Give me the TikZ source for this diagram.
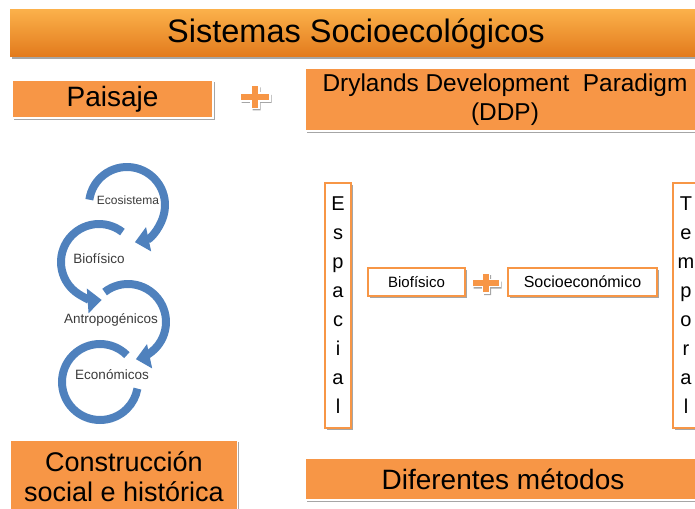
\documentclass[tikz,border=0pt]{standalone}
\usepackage{fontspec}
\setmainfont{Liberation Sans}
\usetikzlibrary{arrows.meta, calc, shadows}

\definecolor{boxorange}{HTML}{F79646}
\definecolor{titletop}{HTML}{FBB04A}
\definecolor{titlemid}{HTML}{F7941E}
\definecolor{titlebot}{HTML}{E27A1C}
\definecolor{spiralblue}{HTML}{4F81BD}
\definecolor{labelgray}{HTML}{3A3A3A}

\newcommand{\fsize}[1]{\fontsize{#1}{1.2\dimexpr#1pt\relax}\selectfont}

\begin{document}
\begin{tikzpicture}[x=1pt, y=1pt,
	shade box/.style={drop shadow={shadow xshift=1.5pt, shadow yshift=-2pt, opacity=0.35, fill=black}},
	orangebox/.style={shade box, fill=boxorange, draw=white, line width=1.2pt, inner sep=0pt, align=center},
	titlebar/.style={shade box, top color=titletop, middle color=titlemid, bottom color=titlebot, inner sep=0pt},
	framebox/.style={shade box, fill=white, draw=boxorange, line width=1.2pt, inner sep=0pt, align=center},
	spiral/.style={draw=spiralblue, line width=8pt},
	spiraltip/.style={-{Triangle[width=24pt, length=14pt]}},
	spirallabel/.style={text=labelgray, font=\fsize{13.5}, inner sep=0pt},
	pics/plussign/.style n args={3}{code={
		\filldraw[shade box, fill=boxorange, draw=white, line width=1.5pt]
			(-#1,-#3) -- (-#3,-#3) -- (-#3,-#2) -- (#3,-#2) -- (#3,-#3) -- (#1,-#3)
			-- (#1,#3) -- (#3,#3) -- (#3,#2) -- (-#3,#2) -- (-#3,#3) -- (-#1,#3) -- cycle;
	}}]
	\useasboundingbox (0,0) rectangle (695,-508);

	% title and top row
	\node[titlebar, minimum width=692, minimum height=47, font=\fsize{32.5}] (title) at (356,-33.5) {Sistemas Socioecológicos};
	\node[orangebox, minimum width=201, minimum height=38, font=\fsize{28}] (paisaje) at (112.5,-99) {Paisaje};
	\pic at (255,-97) {plussign={15}{11.5}{4}};
	\node[orangebox, minimum width=400, minimum height=63, font=\fontsize{24.4}{29}\selectfont] (ddp) at (505,-99.5) {Drylands Development\ \ Paradigm\\(DDP)};

	% spiral of circular arrows
	\coordinate (c1) at (127,-205);
	\coordinate (c2) at (99,-262);
	\coordinate (c3) at (128,-322);
	\coordinate (c4) at (100,-382);
	\draw[spiral] ($(c4)+(45:38)$) arc[start angle=45, end angle=350, radius=38];
	\draw[spiral, spiraltip] ($(c3)+(128:38)$) arc[start angle=128, end angle=-78, radius=38];
	\draw[spiral, spiraltip] ($(c2)+(52:38)$) arc[start angle=52, end angle=274, radius=38];
	\draw[spiral, spiraltip] ($(c1)+(172:38)$) arc[start angle=172, end angle=-78, radius=38];
	\node[spirallabel, font=\fsize{12}] (ecosistema) at (128,-200) {Ecosistema};
	\node[spirallabel] (biofisico) at (99,-259) {Biofísico};
	\node[spirallabel] (antropo) at (111,-320) {Antropogénicos};
	\node[spirallabel] (economicos) at (112,-375) {Económicos};

	% right part
	\node[framebox, minimum width=26, minimum height=245, font=\fontsize{20}{29}\selectfont] (espacial) at (338,-305.5) {E\\s\\p\\a\\c\\i\\a\\l};
	\node[framebox, minimum width=26, minimum height=245, font=\fontsize{20}{29}\selectfont] (temporal) at (686,-305.5) {T\\e\\m\\p\\o\\r\\a\\l};
	\node[framebox, minimum width=97, minimum height=28, font=\fsize{15}] (bio) at (416.5,-282) {Biofísico};
	\pic at (486,-283) {plussign={14}{10}{3.5}};
	\node[framebox, minimum width=149, minimum height=28, font=\fsize{16}] (socio) at (582.5,-282) {Socioeconómico};

	% bottom row
	\node[orangebox, minimum width=227, minimum height=74, font=\fontsize{27}{30}\selectfont] (construccion) at (124,-477) {Construcción\\social e histórica};
	\node[orangebox, minimum width=396, minimum height=42, font=\fsize{28}] (metodos) at (503,-479) {Diferentes métodos};
\end{tikzpicture}
\end{document}
